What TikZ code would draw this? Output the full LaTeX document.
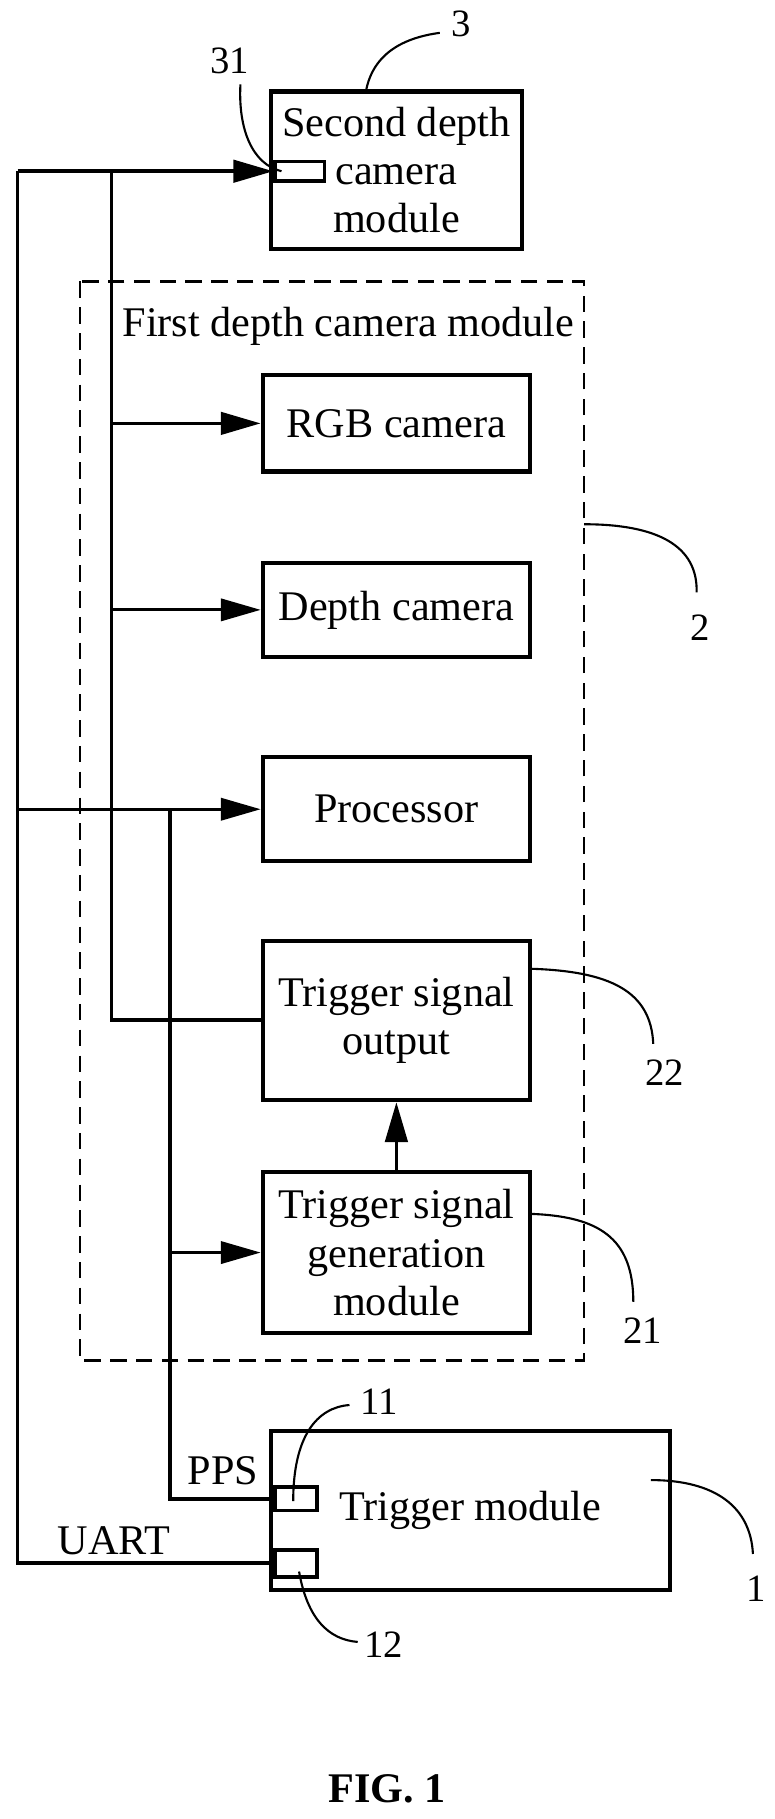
\documentclass[tikz,border=0pt]{standalone}
\usepackage{fontspec}
\setmainfont{Liberation Serif}
\usetikzlibrary{arrows.meta,positioning}
\tikzset{
  blk/.style={draw, line width=3.5pt, minimum width=228pt, align=center, inner sep=0pt},
  port/.style={draw, line width=3pt, minimum width=36pt, minimum height=20pt, inner sep=0pt},
  wire/.style={line width=3.2pt},
  arr/.style={wire, -{Triangle[length=34pt,width=19pt]}},
  lead/.style={line width=1.8pt},
  num/.style={font=\fontsize{33}{35}\selectfont}
}
\begin{document}
\begin{tikzpicture}[x=1pt,y=-1pt,font=\fontsize{36}{41}\selectfont]
\useasboundingbox (0,0) rectangle (660,1551);
	% boxes
	\node[blk, minimum width=214pt, minimum height=134pt] (cam2) at (338,145) {Second depth\\camera\\module};
	\draw[line width=2pt, dashed, dash pattern=on 14pt off 8pt] (68,240) rectangle (498,1160);
	\node at (297,278) {First depth camera module};
	\node[blk, minimum height=82pt] (rgb) at (338,361) {RGB camera};
	\node[blk, minimum height=80pt] (depth) at (338,520) {Depth camera};
	\node[blk, minimum height=89pt] (proc) at (338,690) {Processor};
	\node[blk, minimum height=136pt] (tout) at (338,870) {Trigger signal\\output};
	\node[blk, minimum height=137pt] (tgen) at (338,1068) {Trigger signal\\generation\\module};
	\node[blk, minimum width=340pt, minimum height=135pt] (trig) at (401,1288) {Trigger module};
	% ports
	\node[port, minimum width=42pt, minimum height=17pt, anchor=west] (p31) at (233,146) {};
	\node[port, anchor=west] (p11) at (233,1278) {};
	\node[port, minimum height=23pt, anchor=west] (p12) at (233,1333) {};
	% junctions
	\coordinate (a1) at (15,146);
	\coordinate (a2) at (15,1333);
	\coordinate (b1) at (95,146);
	\coordinate (b2) at (95,870);
	\coordinate (c1) at (15,690);
	\coordinate (c2) at (145,690);
	\coordinate (c3) at (145,1278);
	% wires
	\draw[wire] (p12.west) -- (a2) -- (a1);
	\draw[arr] (a1) -- (p31.west);
	\draw[wire] (tout.west) -- (b2) -- (b1);
	\draw[arr] (rgb.west -| b1) -- (rgb.west);
	\draw[arr, line width=2.5pt] (depth.west -| b1) -- (depth.west);
	\draw[arr, line width=2.5pt] (c1) -- (proc.west);
	\draw[wire] (p11.west) -- (c3) -- (c2);
	\draw[arr, line width=2.5pt] (tgen.west -| c2) -- (tgen.west);
	\draw[arr] (tgen.north) -- (tout.south);
	\node[anchor=south] at (190,1270) {PPS};
	\node[anchor=south] at (97,1329) {UART};
	% reference numerals
	\node[num] (n3) at (393,20) {3};
	\draw[lead] (312,78) .. controls (318,45) and (345,32) .. (375,28);
	\node[num] (n31) at (196,52) {31};
	\draw[lead] (240,146) .. controls (215,140) and (203,110) .. (205,72);
	\node[num] (n2) at (597,535) {2};
	\draw[lead] (498,447) .. controls (560,447) and (595,465) .. (594,505);
	\node[num] (n22) at (567,915) {22};
	\draw[lead] (452,826) .. controls (520,828) and (555,845) .. (557,890);
	\node[num] (n21) at (548,1135) {21};
	\draw[lead] (452,1035) .. controls (510,1037) and (540,1055) .. (540,1110);
	\node[num] (n11) at (323,1195) {11};
	\draw[lead] (250,1280) .. controls (250,1225) and (270,1200) .. (298,1198);
	\node[num] (n12) at (327,1402) {12};
	\draw[lead] (255,1340) .. controls (262,1380) and (280,1398) .. (305,1400);
	\node[num] (n1) at (645,1355) {1};
	\draw[lead] (555,1262) .. controls (610,1262) and (640,1285) .. (642,1325);
	\node[font=\bfseries\fontsize{36}{40}\selectfont] (fig) at (330,1525) {FIG. 1};
\end{tikzpicture}
\end{document}
